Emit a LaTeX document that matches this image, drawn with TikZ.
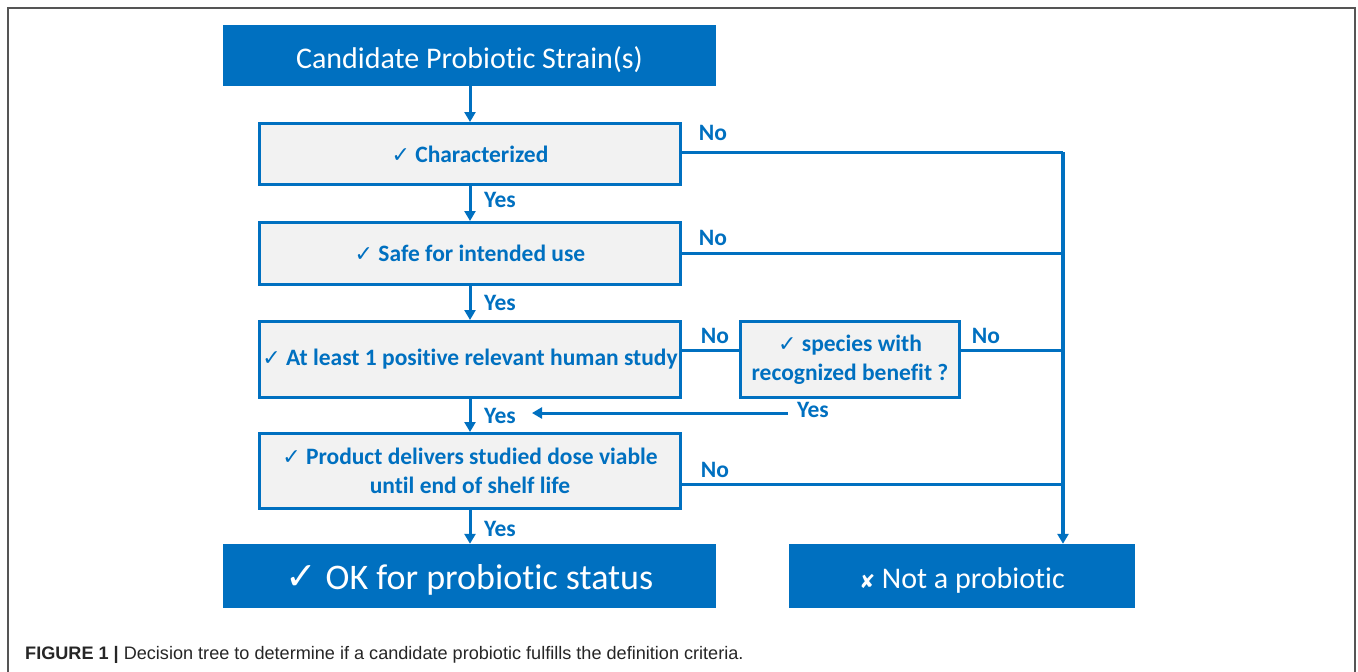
\documentclass[tikz,border=0pt]{standalone}
\usepackage{fontspec}
\setmainfont{Carlito}[Ligatures=NoCommon]
\newfontfamily\symfont{DejaVu Sans}
\newfontfamily\capfont{Liberation Sans}
\usetikzlibrary{arrows.meta}
\definecolor{pblue}{HTML}{0070C0}
\definecolor{pgray}{HTML}{F2F2F2}
\definecolor{frame}{HTML}{555555}
\tikzset{
  bluebox/.style={fill=pblue, draw=none, text=white, align=center, inner sep=0pt},
  graybox/.style={fill=pgray, draw=pblue, line width=3pt, text=pblue, align=center, inner sep=0pt,
    font=\fontsize{23.5}{29}\selectfont\bfseries},
  conn/.style={draw=pblue, line width=3pt},
  arr/.style={conn, -{Triangle[width=11pt,length=10pt]}},
  lbl/.style={text=pblue, font=\fontsize{23.5}{26}\selectfont\bfseries, inner sep=0pt},
}
\newcommand{\ck}{{\symfont\fontsize{22}{24}\selectfont ✓}}
\begin{document}
\begin{tikzpicture}[x=1pt,y=-1pt]
\useasboundingbox (0,0) rectangle (1358,672);
\fill[white] (0,0) rectangle (1358,672);
\draw[frame, line width=1.5pt] (8,672) -- (8,8) -- (1355,8) -- (1355,672);

% nodes
\node[bluebox, minimum width=493pt, minimum height=61pt, font=\fontsize{30}{34}\selectfont, text height=28pt, text depth=3pt] (top) at (469.5,55.5) {Candidate Probiotic Strain(s)};
\node[graybox, minimum width=421pt, minimum height=61pt] (char) at (470,154) {\ck\ Characterized};
\node[graybox, minimum width=421pt, minimum height=62pt] (safe) at (470,253.5) {\ck\ Safe for intended use};
\node[graybox, minimum width=421pt, minimum height=76pt] (least) at (470,359.5) {\ck\ At least 1 positive relevant human study};
\node[graybox, minimum width=219pt, minimum height=76pt] (spec) at (850,359.5) {\ck\ species with\\recognized benefit ?};
\node[graybox, minimum width=421pt, minimum height=75pt] (prod) at (470,471) {\ck\ Product delivers studied dose viable\\until end of shelf life};
\node[bluebox, minimum width=493pt, minimum height=64pt, font=\fontsize{36}{40}\selectfont, text height=28pt, text depth=2pt] (ok) at (469.5,576) {{\symfont\fontsize{38}{40}\selectfont ✓}\ OK for probiotic status};
\node[bluebox, minimum width=346pt, minimum height=64pt, font=\fontsize{30}{34}\selectfont, text height=27pt, text depth=2pt] (notp) at (962,576) {{\symfont\fontsize{19}{22}\selectfont ✘}\ Not a probiotic};

% vertical Yes chain
\draw[arr] (top.south -| 470,0) -- (char.north -| 470,0);
\draw[arr] (char.south -| 470,0) -- (safe.north -| 470,0);
\draw[arr] (safe.south -| 470,0) -- (least.north -| 470,0);
\draw[arr] (least.south -| 470,0) -- (prod.north -| 470,0);
\draw[arr] (prod.south -| 470,0) -- (ok.north -| 470,0);

% rail to Not a probiotic
\coordinate (r1) at (1063,152);
\draw[conn] (char.east |- r1) -- (r1);
\draw[arr, line width=3.5pt] (r1) -- (r1 |- notp.north);
\draw[conn] (safe.east |- 0,253) -- (1063,253);
\draw[conn] (least.east |- 0,350) -- (spec.west |- 0,350);
\draw[conn] (spec.east |- 0,350) -- (1063,350);
\draw[conn] (prod.east |- 0,484) -- (1063,484);

% species Yes back arrow
\coordinate (ys) at (788,413);
\coordinate (ye) at (532,413);
\draw[arr] (ys) -- (ye);

% labels
\node[lbl] (n1) at (713,133) {No};
\node[lbl] (n2) at (713,238) {No};
\node[lbl] (n3) at (715,336) {No};
\node[lbl] (n4) at (986,336) {No};
\node[lbl] (n5) at (715,470) {No};
\node[lbl] (y1) at (500,200) {Yes};
\node[lbl] (y2) at (500,303) {Yes};
\node[lbl] (y3) at (500,416) {Yes};
\node[lbl] (y4) at (500,529) {Yes};
\node[lbl] (y5) at (813,410) {Yes};

% caption
\node[anchor=west, inner sep=0pt, font=\capfont\fontsize{18.1}{20}\selectfont, text=black!85] (cap) at (25,655)
  {\textbf{FIGURE 1 |} Decision tree to determine if a candidate probiotic fulfills the definition criteria.};
\end{tikzpicture}
\end{document}
